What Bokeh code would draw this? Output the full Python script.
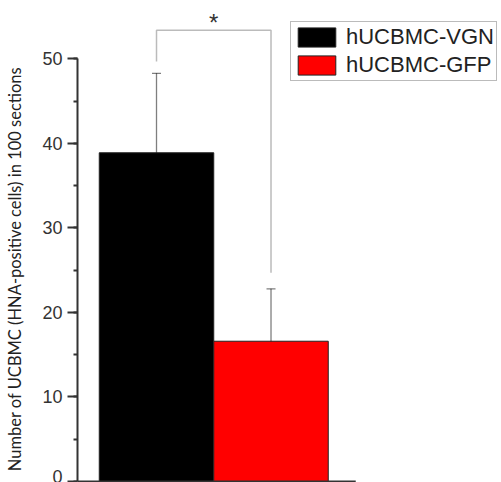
from bokeh.plotting import figure
from bokeh.models import (ColumnDataSource, Range1d, SingleIntervalTicker, Whisker,
                          TeeHead, Label)
from bokeh.embed import file_html
from bokeh.resources import INLINE

# ---- data ----
categories = ["hUCBMC-VGN", "hUCBMC-GFP"]
means = [38.9, 16.6]
sds = [9.4, 6.2]
bar_colors = ["#000000", "#ff0000"]
y_ticks = [0, 10, 20, 30, 40, 50]
sig_label = "*"
y_title = "Number of UCBMC (HNA-positive cells) in 100 sections"

xs = [i + 1 for i in range(len(categories))]
src = ColumnDataSource(dict(
    x=xs, top=means, color=bar_colors, label=categories,
    upper=[m + s for m, s in zip(means, sds)],
    lower=[m - s for m, s in zip(means, sds)],
))

p = figure(width=501, height=482, output_backend="svg", toolbar_location=None,
           x_range=Range1d(0.31, 4.013), y_range=Range1d(-0.118, 56.92),
           min_border_left=77, min_border_right=0, min_border_top=0, min_border_bottom=0)
p.xaxis.visible = False
p.grid.visible = False
p.outline_line_color = None
p.background_fill_color = "white"
p.border_fill_color = "white"

bars = p.vbar(x="x", top="top", width=1.0, bottom=0, source=src,
              fill_color="color", line_color="#222222", line_width=1,
              legend_field="label")

# error bars
w = Whisker(base="x", upper="upper", lower="lower", source=src,
            line_color="black", line_alpha=0.5, line_width=1.3,
            upper_head=TeeHead(size=9, line_color="black", line_alpha=0.5, line_width=1.3),
            lower_head=TeeHead(size=9, line_color="black", line_alpha=0.5, line_width=1.3))
p.add_layout(w)

# baseline (x axis line)
p.segment(x0=[0.31], y0=[0], x1=[2.74], y1=[0], line_color="#333333", line_width=2)

# significance bracket
br_top = 53.4
p.line(x=[xs[0], xs[0], xs[1], xs[1]], y=[49.7, br_top, br_top, 24.7],
       line_color="#bbbbbb", line_width=1.5)
p.add_layout(Label(x=(xs[0] + xs[1]) / 2, y=54.3, text=sig_label,
                   text_align="center", text_baseline="alphabetic",
                   text_font="Liberation Sans", text_font_size="24px", text_color="#333333"))

# y axis
ya = p.yaxis[0]
ya.bounds = (0, 50)
ya.ticker = SingleIntervalTicker(interval=10, num_minor_ticks=2)
ya.axis_line_width = 2
ya.axis_line_color = "#333333"
ya.major_tick_line_width = 2
ya.major_tick_line_color = "#333333"
ya.major_tick_out = 10
ya.major_tick_in = 0
ya.minor_tick_out = 4
ya.minor_tick_in = 0
ya.minor_tick_line_width = 2
ya.minor_tick_line_color = "#333333"
ya.major_label_standoff = 5
ya.major_label_text_font = "Liberation Sans"
ya.major_label_text_font_size = "18px"
ya.major_label_text_color = "#333333"
# title: trailing no-break spaces shift the centred text down to match the reference
ya.axis_label = y_title + "\u00a0" * 13
ya.axis_label_standoff = 14
ya.axis_label_text_font = "Lato"
ya.axis_label_text_font_size = "16.5px"
ya.axis_label_text_font_style = "normal"
ya.axis_label_text_color = "#222222"

# legend
leg = p.legend[0]
leg.location = (213, 401)
leg.glyph_width = 47
leg.glyph_height = 24
leg.label_height = 24
leg.spacing = 2
leg.padding = 2
leg.margin = 0
leg.label_standoff = 6
leg.label_text_font = "Liberation Sans"
leg.label_text_font_size = "22px"
leg.label_text_color = "#222222"
leg.border_line_color = "#777777"
leg.border_line_width = 1.5
leg.background_fill_color = "white"
leg.background_fill_alpha = 1.0

open("out.html", "w").write(file_html(p, INLINE))
